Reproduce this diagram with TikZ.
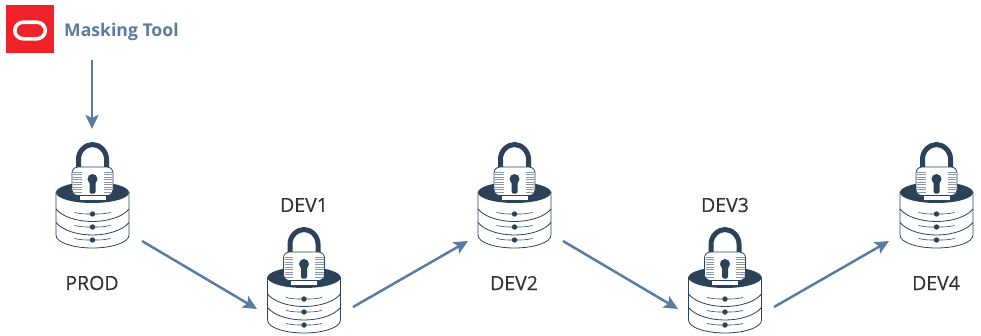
\documentclass[tikz,border=0pt]{standalone}
\usepackage{fontspec}
\setmainfont{Open Sans}
\newfontfamily\labelfont{Open Sans}[FakeBold=0.25]
\usepackage{xcolor}
\usetikzlibrary{arrows.meta,positioning}
\definecolor{flowblue}{HTML}{5B7BA3}
\definecolor{navy}{HTML}{2C4259}
\definecolor{orared}{HTML}{EE2228}
\definecolor{labelgray}{HTML}{333333}
\tikzset{
  x=1pt,y=-1pt,
  flow/.style={draw=flowblue,line width=2.5pt,-{Stealth[length=14pt,width=13pt,inset=3pt]}},
  dblabel/.style={font=\labelfont\fontsize{19.5}{22}\selectfont,text=labelgray},
  lockdb/.pic={
    % disk stack
    \draw[navy,line width=.8pt,fill=white] (-36.5,0) -- (-36.5,43)
      .. controls (-36.5,51) and (-18,56) .. (0,56)
      .. controls (18,56) and (36.5,51) .. (36.5,43) -- (36.5,0) -- cycle;
    \foreach \yy in {17,30.5} {
      \draw[navy,line width=.8pt] (-36.5,\yy) .. controls (-30,\yy+8) and (-15,\yy+12.5) .. (0,\yy+12.5)
        .. controls (15,\yy+12.5) and (30,\yy+8) .. (36.5,\yy);
    }
    \fill[navy] (0,0.5) ellipse [x radius=36.5,y radius=10.5];
    \foreach \yy in {22,35,48} {
      \fill[navy] (0,\yy) circle (2.7);
      \draw[navy,line width=.6pt] (-18,\yy-1.5) .. controls (-10,\yy) .. (0,\yy) .. controls (10,\yy) .. (18,\yy-1.5);
    }
    % padlock
    \draw[navy,line width=5pt] (-14,-22) -- (-14,-33)
      .. controls (-14,-41) and (-7,-47.5) .. (0,-47.5)
      .. controls (7,-47.5) and (14,-41) .. (14,-33) -- (14,-22);
    \fill[white] (-13,3) rectangle (13,7.5);
    \draw[navy,line width=.8pt,fill=white,rounded corners=6pt] (-20.5,-25) rectangle (20.5,3.5);
    \foreach \yy in {-20,-17.5,...,0} {
      \draw[navy!55,line width=.5pt] (-19.5,\yy) -- (-11,\yy);
      \draw[navy!55,line width=.5pt] (11,\yy) -- (19.5,\yy);
    }
    \fill[navy] (0,-13) circle (5);
    \fill[navy,rounded corners=1.5pt] (-3,-12) rectangle (3,1.5);
  }
}
\begin{document}
\begin{tikzpicture}
\useasboundingbox (0,0) rectangle (981,335);
% logo and title
\node[fill=orared,minimum size=48pt,inner sep=0pt] (logo) at (30,29) {};
\draw[white,line width=3.6pt,rounded corners=8.5pt] (14.7,22.2) rectangle (45.3,38.8);
\node[anchor=west,font=\fontsize{17.6}{20}\selectfont\bfseries,text=flowblue,inner sep=0pt] (masking) at (64,31.5) {Masking Tool};
% databases
\pic at (92.5,192) {lockdb};
\pic at (304,277) {lockdb};
\pic at (514.5,192) {lockdb};
\pic at (725,277) {lockdb};
\pic at (936.5,192) {lockdb};
\node[dblabel] (prod) at (92,283) {PROD};
\node[dblabel] (dev1) at (304,205) {DEV1};
\node[dblabel] (dev2) at (514,283) {DEV2};
\node[dblabel] (dev3) at (725,205) {DEV3};
\node[dblabel] (dev4) at (936,283) {DEV4};
% connector ends
\coordinate (m1) at (92,60);
\coordinate (m2) at (92,129);
\coordinate (a1) at (142,241);
\coordinate (a2) at (257,309);
\coordinate (b1) at (353,307);
\coordinate (b2) at (468,241);
\coordinate (c1) at (563,241);
\coordinate (c2) at (678,309);
\coordinate (d1) at (774,307);
\coordinate (d2) at (889,241);
\draw[flow] (m1) -- (m2);
\draw[flow] (a1) -- (a2);
\draw[flow] (b1) -- (b2);
\draw[flow] (c1) -- (c2);
\draw[flow] (d1) -- (d2);
\end{tikzpicture}
\end{document}
